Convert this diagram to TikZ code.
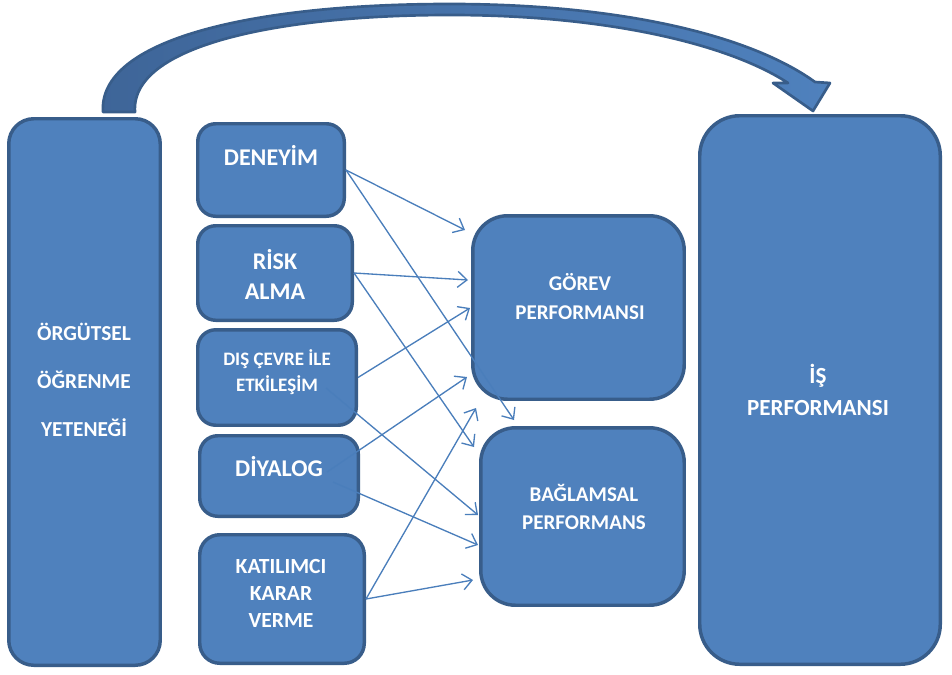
\documentclass[tikz,border=0pt]{standalone}
\usepackage{fontspec}
\setmainfont{Carlito}
\usetikzlibrary{arrows.meta,calc}
\definecolor{boxfill}{HTML}{4F81BD}
\definecolor{boxline}{HTML}{385D8A}
\definecolor{linkblue}{HTML}{4A7EBB}
\definecolor{arcdark}{HTML}{3E6598}
\begin{document}
\begin{tikzpicture}[x=0.75pt,y=-0.75pt,
  box/.style={draw=boxline, line width=2.6pt, fill=boxfill, inner sep=0pt},
  lbl/.style={text=white, align=center, inner sep=0pt},
  link/.style={draw=linkblue, line width=1pt,
    -{Straight Barb[length=7pt,width=12pt,line width=1pt]}}]
\useasboundingbox (0,0) rectangle (952,674);

% curved arrow from the learning capability to job performance
\path[draw=boxline, line width=2pt, line join=round, left color=arcdark, right color=boxfill]
  (103,112) .. controls (98,40) and (250,4) .. (450,4)
  .. controls (620,4) and (750,35) .. (815,82)
  -- (830,83) -- (813,111) -- (773,83) -- (788,83)
  .. controls (730,45) and (610,15) .. (450,15)
  .. controls (280,15) and (130,45) .. (135,112) -- cycle;

% boxes
\node[box, rounded corners=18.75pt, minimum width=113.6pt, minimum height=409.9pt] (org) at (84.5,392) {};
\node[box, rounded corners=13.5pt, minimum width=109.9pt, minimum height=69.4pt] (den) at (271,170) {};
\node[box, rounded corners=13.5pt, minimum width=115.9pt, minimum height=70.9pt] (ris) at (275,273) {};
\node[box, rounded corners=13.5pt, minimum width=118.9pt, minimum height=71.6pt] (dis) at (277,377.5) {};
\node[box, rounded corners=13.5pt, minimum width=118.9pt, minimum height=60.4pt] (diy) at (279,476) {};
\node[box, rounded corners=15pt, minimum width=123.4pt, minimum height=96.4pt] (kat) at (282,599) {};
\node[box, rounded corners=26pt, minimum width=158.6pt, minimum height=137.6pt] (gor) at (578.5,307.5) {};
\node[box, rounded corners=26pt, minimum width=152.6pt, minimum height=133.1pt] (bag) at (582.5,516.5) {};
\node[box, rounded corners=30pt, minimum width=180.4pt, minimum height=411.4pt] (is) at (820,390) {};

% labels
\node[lbl, font=\bfseries\fontsize{16}{36}\selectfont] (orgT) at (84,380) {ÖRGÜTSEL\\ÖĞRENME\\YETENEĞİ};
\node[lbl, font=\bfseries\fontsize{18}{22}\selectfont] (denT) at (271,155) {DENEYİM};
\node[lbl, font=\bfseries\fontsize{18}{23}\selectfont] (risT) at (275,274.5) {RİSK\\ALMA};
\node[lbl, font=\bfseries\fontsize{14.25}{19.5}\selectfont] (disT) at (277,372) {DIŞ ÇEVRE İLE\\ETKİLEŞİM};
\node[lbl, font=\bfseries\fontsize{18}{22}\selectfont] (diyT) at (279,467) {DİYALOG};
\node[lbl, font=\bfseries\fontsize{16.2}{20.5}\selectfont] (katT) at (281,593.5) {KATILIMCI\\KARAR\\VERME};
\node[lbl, font=\bfseries\fontsize{15.75}{21.75}\selectfont] (gorT) at (580,296.5) {GÖREV\\PERFORMANSI};
\node[lbl, font=\bfseries\fontsize{15.75}{21}\selectfont] (bagT) at (584,507) {BAĞLAMSAL\\PERFORMANS};
\node[lbl, font=\bfseries\fontsize{17.3}{24}\selectfont] (isT) at (818,390) {İŞ\\PERFORMANSI};

% line start and end points
\coordinate (dis2) at (326,388);
\coordinate (diy1) at (327,472);
\coordinate (diy2) at (333,482);
\coordinate (g1) at (465,230);
\coordinate (g2) at (468,280);
\coordinate (g3) at (470,308);
\coordinate (g4) at (467,377);
\coordinate (g5) at (476,408);
\coordinate (b1) at (514,420);
\coordinate (b2) at (474,447);
\coordinate (b3) at (478,515);
\coordinate (b4) at (478,545);
\coordinate (b5) at (473,580);

% links from each factor to the two performance dimensions
\draw[link] (den.east) -- (g1);
\draw[link] (den.east) -- (b1);
\draw[link] (ris.east) -- (g2);
\draw[link] (ris.east) -- (b2);
\draw[link] (dis.east) -- (g3);
\draw[link] (dis2) -- (b3);
\draw[link] (diy1) -- (g4);
\draw[link] (diy2) -- (b4);
\draw[link] (kat.east) -- (g5);
\draw[link] (kat.east) -- (b5);
\end{tikzpicture}
\end{document}
